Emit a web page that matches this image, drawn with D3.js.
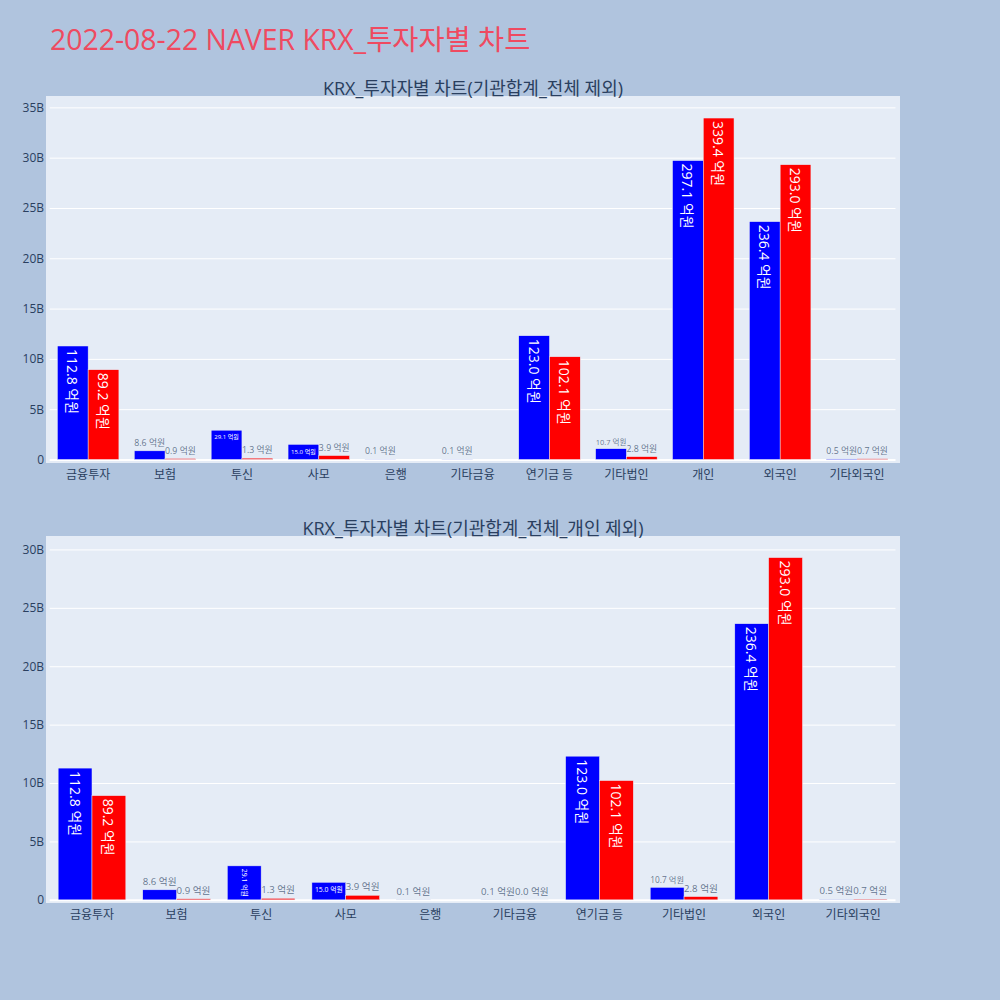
<!DOCTYPE html>
<html>
<head>
<meta charset="utf-8">
<script src="https://cdn.jsdelivr.net/npm/d3@7"></script>
<style>
  html, body { margin: 0; padding: 0; background: #B0C4DE; }
  svg { display: block; }
  text { font-family: "Open Sans", "Noto Sans CJK KR", sans-serif; }
</style>
</head>
<body>
<svg id="chart" width="1000" height="1000"></svg>
<script>
// ---------- data (values in 억원) ----------
const chartTitle = "2022-08-22 NAVER KRX_투자자별 차트";
const topTitle = "KRX_투자자별 차트(기관합계_전체 제외)";
const bottomTitle = "KRX_투자자별 차트(기관합계_전체_개인 제외)";

const categoriesTop = ["금융투자","보험","투신","사모","은행","기타금융","연기금 등","기타법인","개인","외국인","기타외국인"];
const buyTop  = [112.8, 8.6, 29.1, 15.0, 0.1, 0.1, 123.0, 10.7, 297.1, 236.4, 0.5];
const sellTop = [89.2, 0.9, 1.3, 3.9, null, null, 102.1, 2.8, 339.4, 293.0, 0.7];

const categoriesBottom = ["금융투자","보험","투신","사모","은행","기타금융","연기금 등","기타법인","외국인","기타외국인"];
const buyBottom  = [112.8, 8.6, 29.1, 15.0, 0.1, 0.1, 123.0, 10.7, 236.4, 0.5];
const sellBottom = [89.2, 0.9, 1.3, 3.9, null, 0.0, 102.1, 2.8, 293.0, 0.7];

const yTicksTop = [0, 5, 10, 15, 20, 25, 30, 35];
const yTicksBottom = [0, 5, 10, 15, 20, 25, 30];

// ---------- drawing ----------
const svg = d3.select("#chart");
const FONT = '"Open Sans", "Noto Sans CJK KR", sans-serif';
const TXT = "#2a3f5f";
const TEXTPAD = 3;

svg.append("text")
  .attr("x", 50).attr("y", 50)
  .attr("font-size", 28.4)
  .attr("fill", "#ef4a60")
  .text(chartTitle);

function drawPanel(opt) {
  const g = svg.append("g");
  const {cats, buy, sell, ticks, top, bottom, yDomain, title} = opt;
  const bgLeft = 46, bgRight = 900;
  g.append("rect").attr("x", bgLeft).attr("y", top)
    .attr("width", bgRight - bgLeft).attr("height", bottom - top)
    .attr("fill", "#E5ECF6");

  const x = d3.scaleBand().domain(cats).range([49.7, 895.5]).paddingInner(0).paddingOuter(0);
  const y = d3.scaleLinear().domain(yDomain).range([bottom, top]);
  const inner = d3.scaleBand().domain(["buy", "sell"]).range([0, x.bandwidth()]).paddingInner(0).paddingOuter(0.25);

  // y axis: gridlines + labels
  const yAxis = d3.axisLeft(y).tickValues(ticks)
    .tickFormat(d => d === 0 ? "0" : d + "B")
    .tickSize(-(895.5 - 49.7)).tickPadding(6);
  const ya = g.append("g").attr("transform", `translate(49.7,0)`).call(yAxis);
  ya.select(".domain").remove();
  ya.selectAll(".tick line").attr("stroke", "#ffffff")
    .attr("stroke-width", d => d === 0 ? 2 : 1);
  ya.selectAll(".tick text").attr("fill", TXT).attr("font-size", 12)
    .attr("font-family", FONT).attr("x", -5.7);

  // x axis labels
  const xAxis = d3.axisBottom(x).tickSize(0).tickPadding(7);
  const xa = g.append("g").attr("transform", `translate(0,${bottom})`).call(xAxis);
  xa.select(".domain").remove();
  xa.selectAll(".tick text").attr("fill", TXT).attr("font-size", 12).attr("font-family", FONT);

  // title
  g.append("text").attr("x", 473).attr("y", top - 1)
    .attr("text-anchor", "middle").attr("font-size", 18).attr("fill", TXT)
    .text(title);

  const series = [
    {key: "buy", vals: buy, color: "#0000ff"},
    {key: "sell", vals: sell, color: "#ff0000"}
  ];
  const barsG = g.append("g");
  const textG = g.append("g");
  series.forEach(s => {
    cats.forEach((c, i) => {
      const v = s.vals[i];
      if (v === null || v === undefined) return;
      const bv = v / 10; // 억원 -> B (billion)
      const bx = x(c) + inner(s.key);
      const bw = inner.bandwidth();
      const yTop = y(bv), y0 = y(0);
      const bh = Math.abs(y0 - yTop);
      barsG.append("rect")
        .attr("x", bx).attr("y", Math.min(yTop, y0))
        .attr("width", bw).attr("height", Math.max(bh, 0.01))
        .attr("fill", s.color)
        .attr("stroke", "#E5ECF6").attr("stroke-width", 0.5);

      const label = v.toFixed(1) + " 억원";
      const t = textG.append("text")
        .attr("font-size", 14)
        .attr("text-anchor", "middle")
        .attr("dominant-baseline", "central")
        .text(label);
      const bb = t.node().getBBox();
      const tw = bb.width, th = bb.height;
      const aw = bw - 2 * TEXTPAD, ah = bh - 2 * TEXTPAD;
      const cx = bx + bw / 2;
      const fitsShrunk = ah > 0 && aw > 0 && ah >= th * (aw / tw);
      const fitsRot = tw <= ah && th <= aw;
      if (fitsShrunk || fitsRot) {
        t.attr("fill", "#ffffff");
        const sH = Math.min(1, aw / tw, ah / th);
        const sR = Math.min(1, ah / tw, aw / th);
        if (sR > sH) {
          const cy = yTop + TEXTPAD + tw * sR / 2;
          t.attr("transform", `translate(${cx},${cy}) rotate(90) scale(${sR})`);
        } else {
          const cy = yTop + TEXTPAD + th * sH / 2;
          t.attr("transform", `translate(${cx},${cy}) scale(${sH})`);
        }
      } else {
        t.attr("fill", TXT).attr("fill-opacity", 0.7);
        const so = Math.min(1, bw / tw);
        const cy = yTop - TEXTPAD - th * so / 2 + 1;
        t.attr("transform", `translate(${cx},${cy}) scale(${so})`);
      }
    });
  });
}

drawPanel({
  cats: categoriesTop, buy: buyTop, sell: sellTop, ticks: yTicksTop,
  top: 96, bottom: 463, yDomain: [-0.35, 36.13], title: topTitle
});
drawPanel({
  cats: categoriesBottom, buy: buyBottom, sell: sellBottom, ticks: yTicksBottom,
  top: 536, bottom: 903, yDomain: [-0.27, 31.15], title: bottomTitle
});
</script>
</body>
</html>
